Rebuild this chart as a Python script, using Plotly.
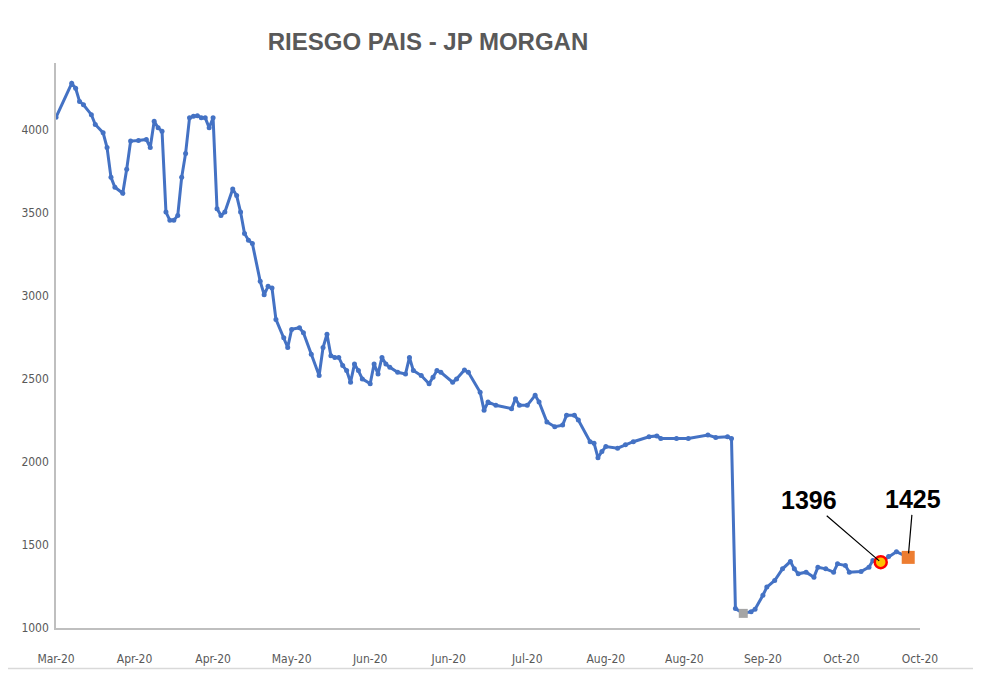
"""Riesgo pais (JP Morgan EMBI Argentina) line chart."""

import plotly.graph_objects as go

# data
dates = [
    "2020-03-20", "2020-03-24", "2020-03-25", "2020-03-26", "2020-03-27", "2020-03-29", "2020-03-30",
    "2020-04-01", "2020-04-02", "2020-04-03", "2020-04-04", "2020-04-06", "2020-04-07", "2020-04-08",
    "2020-04-10", "2020-04-12", "2020-04-13", "2020-04-14", "2020-04-15", "2020-04-16", "2020-04-17",
    "2020-04-18", "2020-04-19", "2020-04-20", "2020-04-21", "2020-04-22", "2020-04-23", "2020-04-24",
    "2020-04-25", "2020-04-26", "2020-04-27", "2020-04-28", "2020-04-29", "2020-04-30", "2020-05-01",
    "2020-05-02", "2020-05-04", "2020-05-05", "2020-05-06", "2020-05-07", "2020-05-08", "2020-05-09",
    "2020-05-11", "2020-05-12", "2020-05-13", "2020-05-14", "2020-05-15", "2020-05-17", "2020-05-18",
    "2020-05-19", "2020-05-21", "2020-05-22", "2020-05-24", "2020-05-26", "2020-05-27", "2020-05-28",
    "2020-05-29", "2020-05-30", "2020-05-31", "2020-06-01", "2020-06-02", "2020-06-03", "2020-06-04",
    "2020-06-05", "2020-06-06", "2020-06-08", "2020-06-09", "2020-06-10", "2020-06-11", "2020-06-12",
    "2020-06-13", "2020-06-15", "2020-06-17", "2020-06-18", "2020-06-19", "2020-06-21", "2020-06-23",
    "2020-06-24", "2020-06-25", "2020-06-26", "2020-06-29", "2020-06-30", "2020-07-02", "2020-07-03",
    "2020-07-06", "2020-07-07", "2020-07-08", "2020-07-10", "2020-07-14", "2020-07-15", "2020-07-16",
    "2020-07-18", "2020-07-20", "2020-07-21", "2020-07-23", "2020-07-25", "2020-07-27", "2020-07-28",
    "2020-07-30", "2020-07-31", "2020-08-03", "2020-08-04", "2020-08-05", "2020-08-06", "2020-08-07",
    "2020-08-10", "2020-08-12", "2020-08-14", "2020-08-18", "2020-08-20", "2020-08-21", "2020-08-25",
    "2020-08-28", "2020-09-02", "2020-09-04", "2020-09-07", "2020-09-08", "2020-09-09", "2020-09-11",
    "2020-09-13", "2020-09-14", "2020-09-16", "2020-09-17", "2020-09-19", "2020-09-21", "2020-09-23",
    "2020-09-24", "2020-09-25", "2020-09-27", "2020-09-29", "2020-09-30", "2020-10-02", "2020-10-04",
    "2020-10-05", "2020-10-07", "2020-10-08", "2020-10-11", "2020-10-13", "2020-10-14", "2020-10-16",
    "2020-10-18", "2020-10-20", "2020-10-23",
]
riesgo = [
    4073, 4278, 4248, 4169, 4149, 4089, 4030,
    3980, 3891, 3712, 3652, 3616, 3761, 3930,
    3934, 3940, 3891, 4050, 4010, 3990, 3503,
    3453, 3453, 3483, 3712, 3856, 4070, 4079,
    4083, 4070, 4070, 4010, 4070, 3523, 3483,
    3503, 3642, 3602, 3503, 3374, 3334, 3314,
    3086, 3006, 3056, 3046, 2857, 2747, 2688,
    2797, 2807, 2777, 2648, 2519, 2688, 2768,
    2638, 2628, 2628, 2579, 2549, 2479, 2588,
    2549, 2499, 2470, 2588, 2529, 2628, 2588,
    2569, 2539, 2529, 2628, 2549, 2519, 2470,
    2509, 2549, 2539, 2479, 2499, 2553, 2539,
    2419, 2310, 2360, 2340, 2320, 2380, 2340,
    2340, 2400, 2360, 2240, 2211, 2221, 2280,
    2280, 2251, 2121, 2112, 2025, 2062, 2092,
    2082, 2102, 2121, 2151, 2156, 2141, 2141,
    2141, 2161, 2147, 2151, 2141, 1117, 1088,
    1098, 1113, 1197, 1246, 1286, 1356, 1400,
    1356, 1326, 1336, 1306, 1366, 1356, 1336,
    1386, 1376, 1336, 1340, 1366, 1406, 1396,
    1430, 1459, 1425,
]
assert len(dates) == len(riesgo)

highlight_date = "2020-10-16"
x_range = ["2020-03-20", "2020-10-26"]
y_range = [1000, 4400]

BLUE = "#4472C4"
GREY_TXT = "#595959"
AXIS = "#BFBFBF"

# the page body has an 8px margin, so the figure is shrunk to fit the window
W, H = 973, 670
ML, MR, MT, MB = 48, 61, 55, 43

fig = go.Figure()

fig.add_trace(
    go.Scatter(
        x=dates,
        y=riesgo,
        mode="lines+markers",
        line={"color": BLUE, "width": 3},
        marker={"color": BLUE, "size": 5},
        showlegend=False,
        hoverinfo="x+y",
    )
)

# min point (grey), highlighted point (red ring) and last point (orange)
i_min = riesgo.index(min(riesgo))
i_hl = dates.index(highlight_date)
i_last = len(riesgo) - 1

fig.add_trace(
    go.Scatter(
        x=[dates[i_min]], y=[riesgo[i_min]], mode="markers",
        marker={"symbol": "square", "size": 9, "color": "#A5A5A5"},
        showlegend=False,
    )
)
fig.add_trace(
    go.Scatter(
        x=[dates[i_hl]], y=[riesgo[i_hl]], mode="markers",
        marker={"symbol": "circle", "size": 12, "color": "#FFC000",
                "line": {"color": "#FF0000", "width": 2.5}},
        showlegend=False,
    )
)
fig.add_trace(
    go.Scatter(
        x=[dates[i_last]], y=[riesgo[i_last]], mode="markers",
        marker={"symbol": "square", "size": 13, "color": "#ED7D31"},
        showlegend=False,
    )
)

label_font = {"family": "Liberation Sans, Arial, sans-serif", "size": 25, "color": "#000000"}
fig.add_annotation(
    x=dates[i_hl], y=riesgo[i_hl], text=f"<b>{riesgo[i_hl]}</b>",
    showarrow=True, arrowhead=0, arrowwidth=1.2, arrowcolor="#000000",
    ax=-72, ay=-62, font=label_font, standoff=2,
)
fig.add_annotation(
    x=dates[i_last], y=riesgo[i_last], text=f"<b>{riesgo[i_last]}</b>",
    showarrow=True, arrowhead=0, arrowwidth=1.2, arrowcolor="#000000",
    ax=5, ay=-58, font=label_font, standoff=4,
)

# thin frame on the right and bottom edges of the chart
pw, ph = W - ML - MR, H - MT - MB
right_x = (W - 3 - ML) / pw
bottom_y = -(MB - 2) / ph
fig.add_shape(type="line", xref="paper", yref="paper", layer="below",
              x0=right_x, x1=right_x, y0=bottom_y, y1=1 + MT / ph,
              line={"color": "#D9D9D9", "width": 1.5})
fig.add_shape(type="line", xref="paper", yref="paper", layer="below",
              x0=-ML / pw, x1=right_x, y0=bottom_y, y1=bottom_y,
              line={"color": "#D9D9D9", "width": 1.5})

tick_font = {"family": "Liberation Sans Narrow, DejaVu Sans Condensed, Arial, sans-serif",
             "size": 12, "color": GREY_TXT}

fig.update_layout(
    width=W,
    height=H,
    margin={"l": ML, "r": MR, "t": MT, "b": MB},
    paper_bgcolor="white",
    plot_bgcolor="white",
    title={
        "text": "<b>RIESGO PAIS - JP MORGAN</b>",
        "x": 420 / W,
        "xanchor": "center",
        "y": 1 - 34 / H,
        "yanchor": "middle",
        "font": {"family": "Liberation Sans, Arial, sans-serif", "size": 24, "color": GREY_TXT},
    },
    xaxis={
        "type": "date",
        "range": x_range,
        "tick0": x_range[0],
        "dtick": 20 * 86400000,
        "tickformat": "%b-%y",
        "showgrid": False,
        "zeroline": False,
        "showline": True,
        "linecolor": AXIS,
        "linewidth": 1.5,
        "ticks": "",
        "ticklabelstandoff": 19,
        "tickfont": tick_font,
    },
    yaxis={
        "range": y_range,
        "dtick": 500,
        "tick0": 1000,
        "showgrid": False,
        "zeroline": False,
        "showline": True,
        "linecolor": AXIS,
        "linewidth": 1.5,
        "ticks": "",
        "ticklabelstandoff": 3,
        "tickfont": tick_font,
    },
)

fig.write_html("out.html")
